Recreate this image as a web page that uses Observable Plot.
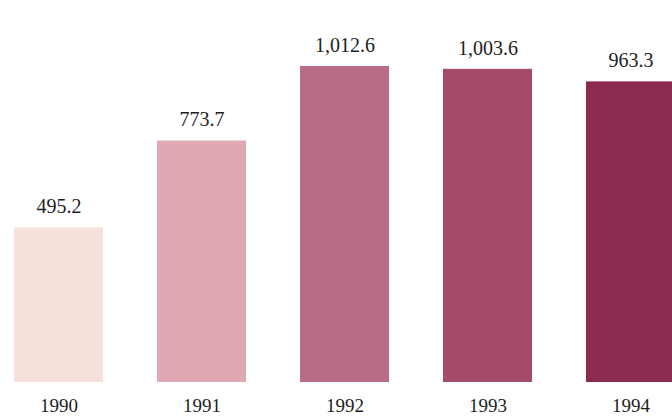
<!DOCTYPE html>
<html>
<head>
<meta charset="utf-8">
<script src="https://cdn.jsdelivr.net/npm/d3@7"></script>
<script src="https://cdn.jsdelivr.net/npm/@observablehq/plot@0.6"></script>
<style>
  html, body { margin: 0; padding: 0; background: #ffffff; }
  #chart svg { display: block; }
</style>
</head>
<body>
<div id="chart"></div>
<script>
const years = ["1990", "1991", "1992", "1993", "1994"];
const values = [495.2, 773.7, 1012.6, 1003.6, 963.3];
const colors = ["#f7e1dc", "#dea9b2", "#bb6c85", "#a34b69", "#8c2a4f"];

const data = years.map((year, i) => ({ year, value: values[i] }));
const fmt = d3.format(",.1f");

const chart = Plot.plot({
  width: 672,
  height: 416,
  margin: 0,
  style: { fontFamily: "'Liberation Serif', 'DejaVu Serif', serif", background: "#ffffff" },
  x: { type: "band", domain: years, range: [-14.25, 703.25], paddingInner: 0.38, paddingOuter: 0.19, axis: null },
  y: { domain: [0, d3.max(values)], range: [382, 66], axis: null },
  color: { type: "ordinal", domain: years, range: colors },
  marks: [
    Plot.barY(data, { x: "year", y: "value", fill: "year" }),
    Plot.text(data, { x: "year", y: "value", text: d => fmt(d.value), dy: -21, lineAnchor: "middle", fontSize: 20, fill: "#1e1e1e" }),
    Plot.text(data, { x: "year", y: () => 0, text: "year", dy: 23, lineAnchor: "middle", fontSize: 19, fill: "#1e1e1e" })
  ]
});
document.getElementById("chart").appendChild(chart);
</script>
</body>
</html>
